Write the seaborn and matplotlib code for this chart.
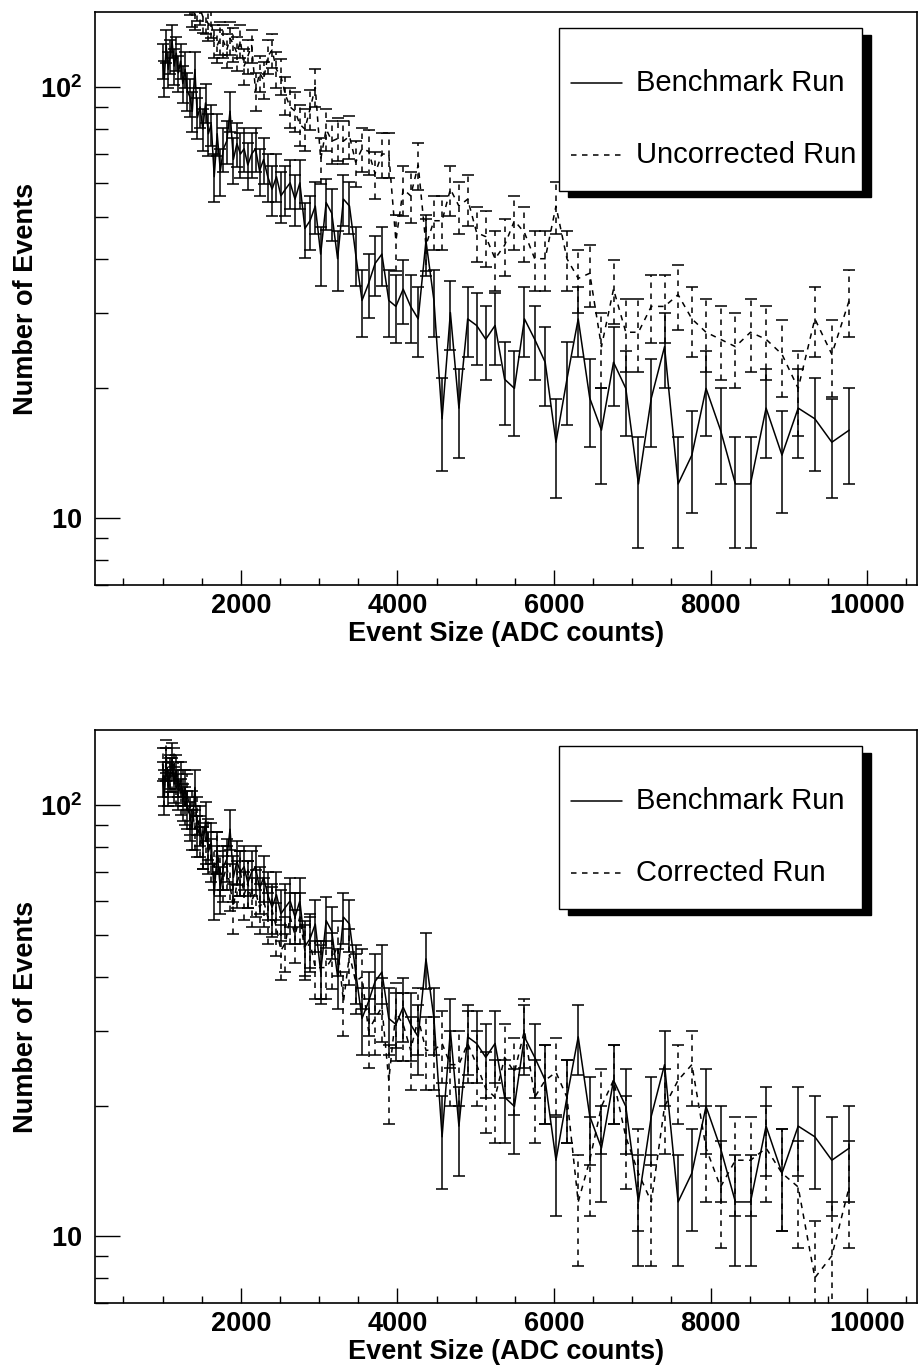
import numpy as np
import pandas as pd
import matplotlib
matplotlib.use("Agg")
import matplotlib.pyplot as plt
import seaborn as sns
from matplotlib.ticker import FixedLocator, FuncFormatter, NullFormatter
from matplotlib.patches import Rectangle
from matplotlib.lines import Line2D

sns.set_theme(style="ticks", rc={
    "axes.edgecolor": "black", "xtick.color": "black", "ytick.color": "black",
    "text.color": "black", "axes.labelcolor": "black"})
plt.rcParams['font.family'] = ['Liberation Sans', 'DejaVu Sans']
plt.rcParams['mathtext.fontset'] = 'custom'
plt.rcParams['mathtext.rm'] = 'Liberation Sans'
plt.rcParams['mathtext.bf'] = 'Liberation Sans:bold'

# ---------------- data ----------------
event_size = [1000, 1023, 1047, 1072, 1096, 1122, 1148, 1175, 1202, 1230,
              1259, 1288, 1318, 1349, 1380, 1413, 1445, 1479, 1514, 1549,
              1585, 1622, 1660, 1698, 1738, 1778, 1820, 1862, 1905, 1950,
              1995, 2042, 2089, 2138, 2188, 2239, 2291, 2344, 2399, 2455,
              2512, 2570, 2630, 2692, 2754, 2818, 2884, 2951, 3020, 3090,
              3162, 3236, 3311, 3388, 3467, 3548, 3631, 3715, 3802, 3890,
              3981, 4074, 4169, 4266, 4365, 4467, 4571, 4677, 4786, 4898,
              5012, 5129, 5248, 5370, 5495, 5623, 5754, 5888, 6026, 6166,
              6310, 6457, 6607, 6761, 6918, 7079, 7244, 7413, 7586, 7762,
              7943, 8128, 8318, 8511, 8710, 8913, 9120, 9333, 9550, 9772]

benchmark = [115, 105, 125, 110, 118, 128, 112, 120, 108, 115,
             102, 110, 98, 95, 88, 110, 85, 90, 80, 92,
             78, 82, 62, 78, 64, 72, 75, 88, 68, 74,
             70, 72, 66, 70, 72, 64, 68, 62, 58, 62,
             56, 58, 60, 55, 60, 47, 49, 53, 41, 54,
             51, 40, 55, 53, 41, 32, 35, 39, 41, 32,
             31, 34, 31, 29, 44, 32, 17, 30, 18, 29,
             28, 26, 28, 21, 20, 29, 26, 23, 15, 21,
             29, 19, 16, 23, 20, 12, 19, 25, 12, 14,
             20, 16, 12, 12, 18, 14, 18, 17, 15, 16]

uncorrected = [175, 185, 170, 190, 180, 172, 188, 178, 168, 182,
               170, 165, 175, 160, 150, 148, 155, 152, 146, 145,
               140, 142, 128, 125, 130, 128, 122, 130, 126, 120,
               128, 112, 118, 125, 98, 108, 104, 118, 122, 110,
               106, 96, 90, 88, 82, 80, 89, 100, 68, 80,
               75, 76, 75, 77, 67, 72, 71, 63, 70, 70,
               44, 58, 56, 66, 43, 49, 49, 58, 53, 55,
               46, 45, 40, 43, 49, 46, 40, 40, 53, 40,
               36, 37, 25, 34, 27, 27, 31, 31, 33, 29,
               27, 26, 25, 27, 26, 24, 20, 29, 24, 32]

corrected = [125, 110, 130, 115, 120, 118, 125, 110, 115, 105,
             110, 100, 108, 92, 98, 88, 95, 85, 80, 82,
             84, 75, 72, 78, 70, 68, 72, 65, 58, 66,
             70, 62, 66, 60, 63, 58, 60, 55, 57, 52,
             46, 48, 55, 50, 55, 46, 48, 42, 42, 42,
             44, 47, 35, 45, 39, 40, 30, 32, 34, 23,
             33, 31, 27, 32, 27, 27, 28, 25, 25, 28,
             25, 22, 21, 26, 24, 30, 21, 23, 24, 21,
             12, 15, 20, 23, 17, 14, 12, 20, 23, 25,
             16, 13, 15, 15, 16, 14, 13, 8, 9, 13]

x_label = "Event Size (ADC counts)"
y_label = "Number of Events"
x_major = [2000, 4000, 6000, 8000, 10000]
x_minor = [500, 1000, 1500, 2500, 3000, 3500, 4500, 5000, 5500, 6500,
           7000, 7500, 8500, 9000, 9500, 10500]
y_major = [10, 100]
y_minor = [7, 8, 9, 20, 30, 40, 50, 60, 70, 80, 90]
panels = [("Benchmark Run", "Uncorrected Run", uncorrected),
          ("Benchmark Run", "Corrected Run", corrected)]

# ---------------- figure ----------------
W, H = 919, 1366
fig = plt.figure(figsize=(W / 100, H / 100), dpi=100)
ax_left, ax_right = 95, 917
ax_w = ax_right - ax_left
ax_h = 572.5
tops = [12.3, 730.3]

DASH = (0, (3.6, 3.6))
LW = 1.1


def draw_series(ax, y, dashed):
    df = pd.DataFrame({"x": event_size, "y": y})
    sns.lineplot(data=df, x="x", y="y", ax=ax, color="black", lw=LW,
                 estimator=None, sort=False,
                 linestyle=DASH if dashed else "-")
    yerr = np.sqrt(np.asarray(y, dtype=float))
    eb = ax.errorbar(event_size, y, yerr=yerr, fmt="none", ecolor="black",
                     elinewidth=LW, capsize=4.2, capthick=LW)
    if dashed:
        for c in eb[2]:
            c.set_linestyle(DASH)


def y_fmt(v, pos):
    if abs(v - 10) < 1e-6:
        return r"$\mathbf{10}$"
    if abs(v - 100) < 1e-6:
        return r"$\mathbf{10^{2}}$"
    return ""


for top, (lab1, lab2, other) in zip(tops, panels):
    ax = fig.add_axes([ax_left / W, 1 - (top + ax_h) / H, ax_w / W, ax_h / H])
    ax.set_yscale("log")
    draw_series(ax, benchmark, False)
    draw_series(ax, other, True)
    ax.set_xlim(137, 10638)
    ax.set_ylim(7.0, 149.3)

    ax.xaxis.set_major_locator(FixedLocator(x_major))
    ax.xaxis.set_minor_locator(FixedLocator(x_minor))
    ax.yaxis.set_major_locator(FixedLocator(y_major))
    ax.yaxis.set_minor_locator(FixedLocator(y_minor))
    ax.yaxis.set_major_formatter(FuncFormatter(y_fmt))
    ax.yaxis.set_minor_formatter(NullFormatter())
    ax.xaxis.set_major_formatter(FuncFormatter(lambda v, p: f"{int(v)}"))

    ax.tick_params(axis="x", which="major", direction="in", length=10.8,
                   width=1.0, labelsize=19.5, pad=6)
    ax.tick_params(axis="x", which="minor", direction="in", length=5.4, width=1.0)
    ax.tick_params(axis="y", which="major", direction="in", length=18,
                   width=1.0, labelsize=19.5, pad=9)
    ax.tick_params(axis="y", which="minor", direction="in", length=9, width=1.0)
    for lbl in ax.get_xticklabels():
        lbl.set_fontweight("bold")
    for s in ax.spines.values():
        s.set_linewidth(1.2)
        s.set_visible(True)

    ax.set_xlabel(x_label, fontsize=19.5, fontweight="bold")
    ax.set_ylabel(y_label, fontsize=19.5, fontweight="bold")
    ax.xaxis.set_label_coords(0.5, -0.0632)
    ax.yaxis.set_label_coords(-0.0687, 0.5)

    # ROOT-style legend with solid black shadow
    lx0 = (559 - ax_left) / ax_w
    lx1 = (862 - ax_left) / ax_w
    ly1 = 1 - (28 - 12.3) / ax_h
    ly0 = 1 - (190.7 - 12.3) / ax_h
    sdx = 9 / ax_w
    sdy = 6.6 / ax_h
    ax.add_patch(Rectangle((lx0 + sdx, ly0 - sdy), lx1 - lx0, ly1 - ly0,
                           transform=ax.transAxes, facecolor="black",
                           edgecolor="black", zorder=10))
    ax.add_patch(Rectangle((lx0, ly0), lx1 - lx0, ly1 - ly0,
                           transform=ax.transAxes, facecolor="white",
                           edgecolor="black", lw=1.0, zorder=11))
    for lab, yy, ls in [(lab1, 83, "-"), (lab2, 155, DASH)]:
        fy = 1 - (yy - 12.3) / ax_h
        ax.add_line(Line2D([(571 - ax_left) / ax_w, (622 - ax_left) / ax_w], [fy, fy],
                           transform=ax.transAxes, color="black", lw=LW,
                           linestyle=ls, zorder=12))
        ax.text((636 - ax_left) / ax_w, fy, lab, transform=ax.transAxes,
                fontsize=21, va="center", ha="left", zorder=12)

fig.savefig("out.png", dpi=100)
